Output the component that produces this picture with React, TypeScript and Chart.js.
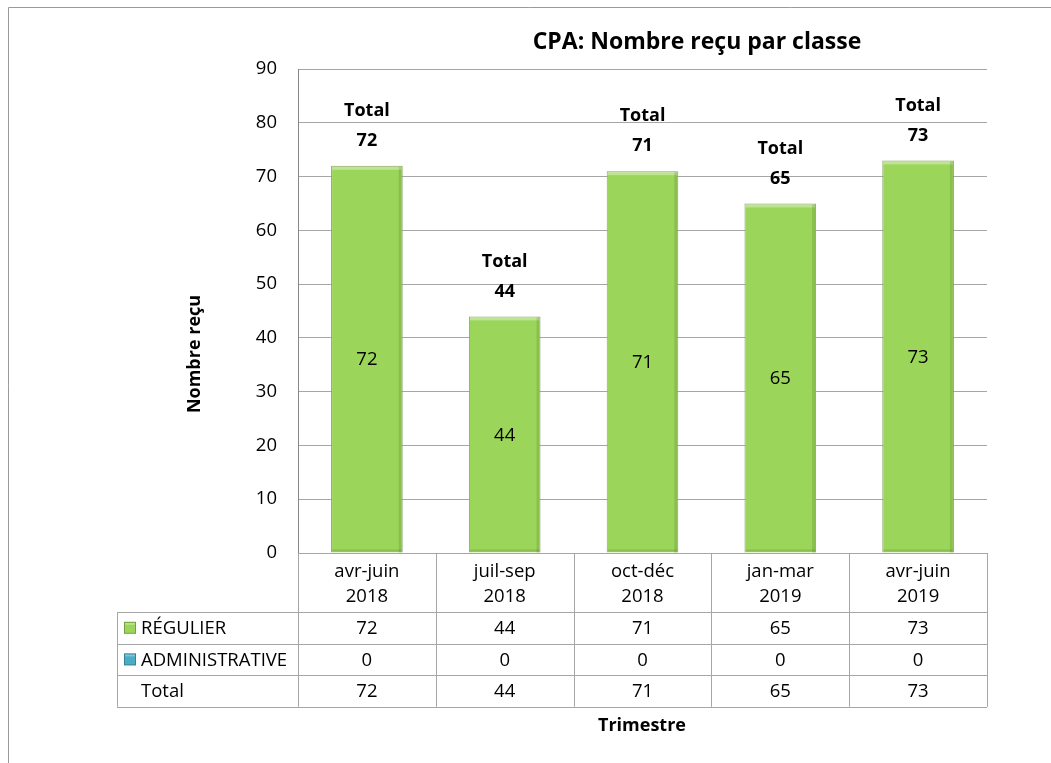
import React, { useEffect, useRef } from "react";
import { Chart, registerables } from "chart.js";

Chart.register(...registerables);

const chartTitle = "CPA: Nombre reçu par classe";
const yTitle = "Nombre reçu";
const xTitle = "Trimestre";
const categories = [
  ["avr-juin", "2018"],
  ["juil-sep", "2018"],
  ["oct-déc", "2018"],
  ["jan-mar", "2019"],
  ["avr-juin", "2019"],
];
const seriesNames = ["RÉGULIER", "ADMINISTRATIVE"];
const regulier = [72, 44, 71, 65, 73];
const administrative = [0, 0, 0, 0, 0];
const totals = [72, 44, 71, 65, 73];
const totalLabel = "Total";

const FONT = "'Open Sans', sans-serif";
const GREEN = "#9BD65A";
const BLUE = "#4BACC6";
const LINE = "#a6a6a6";
const TXT = 18.5;

const tablePlugin = {
  id: "dataTable",
  beforeDraw(chart: any) {
    const { ctx } = chart;
    ctx.save();
    ctx.fillStyle = "#fff";
    ctx.fillRect(0, 0, chart.width, chart.height);
    ctx.restore();
  },
  afterDatasetsDraw(chart: any) {
    // subtle bevel on bars
    const { ctx } = chart;
    const meta = chart.getDatasetMeta(0);
    ctx.save();
    meta.data.forEach((bar: any) => {
      const l = bar.x - bar.width / 2;
      const r = bar.x + bar.width / 2;
      const t = bar.y;
      const b = bar.base;
      ctx.fillStyle = "rgba(255,255,255,0.35)";
      ctx.fillRect(l + 1, t + 1, r - l - 2, 3);
      ctx.fillStyle = "rgba(60,90,30,0.18)";
      ctx.fillRect(r - 4, t + 1, 3, b - t - 1);
      ctx.fillRect(l + 1, b - 3, r - l - 2, 2);
    });
    ctx.restore();
  },
  afterDraw(chart: any) {
    const { ctx, chartArea } = chart;
    const xs = chart.scales.x;
    const ys = chart.scales.y;
    const n = categories.length;
    const step = xs.width / n;
    ctx.save();

    // outer frame
    ctx.strokeStyle = "#9a9a9a";
    ctx.lineWidth = 1;
    ctx.beginPath();
    ctx.moveTo(8.5, chart.height);
    ctx.lineTo(8.5, 7.5);
    ctx.lineTo(chart.width, 7.5);
    ctx.stroke();

    // title
    ctx.fillStyle = "#000";
    ctx.textAlign = "center";
    ctx.textBaseline = "middle";
    ctx.font = `bold 23px ${FONT}`;
    ctx.fillText(chartTitle, 697, 42);

    // axis titles
    ctx.font = `bold 18px ${FONT}`;
    ctx.fillText(xTitle, 642, 726);
    ctx.save();
    ctx.translate(195, 354);
    ctx.rotate(-Math.PI / 2);
    ctx.fillText(yTitle, 0, 0);
    ctx.restore();

    // table
    const tblLeft = 117;
    const top = chartArea.bottom;
    const headerBottom = top + 59;
    const rowH = 31.6;
    const rowsY = [headerBottom, headerBottom + rowH, headerBottom + 2 * rowH, headerBottom + 3 * rowH];
    ctx.strokeStyle = LINE;
    ctx.lineWidth = 1;
    ctx.beginPath();
    for (let i = 0; i <= n; i++) {
      const bx = Math.round(xs.left + i * step) + 0.5;
      ctx.moveTo(bx, top);
      ctx.lineTo(bx, rowsY[3]);
    }
    ctx.moveTo(tblLeft + 0.5, headerBottom);
    ctx.lineTo(tblLeft + 0.5, rowsY[3]);
    for (const ry of rowsY) {
      const yy = Math.round(ry) + 0.5;
      ctx.moveTo(tblLeft, yy);
      ctx.lineTo(xs.right, yy);
    }
    ctx.stroke();

    const rowValues = [regulier, administrative, totals];
    const rowNames = [seriesNames[0], seriesNames[1], totalLabel];
    const markerColors = [GREEN, BLUE, null];
    ctx.font = `${TXT}px ${FONT}`;
    for (let r = 0; r < 3; r++) {
      const cy = (rowsY[r] + rowsY[r + 1]) / 2;
      const mc = markerColors[r];
      if (mc) {
        ctx.fillStyle = mc;
        ctx.fillRect(124, cy - 6, 12, 12);
        ctx.fillStyle = "rgba(255,255,255,0.3)";
        ctx.fillRect(125, cy - 5, 10, 2);
        ctx.strokeStyle = "rgba(0,0,0,0.25)";
        ctx.strokeRect(124.5, cy - 5.5, 11, 11);
      }
      ctx.fillStyle = "#000";
      ctx.textAlign = "left";
      ctx.fillText(rowNames[r], 141, cy + 1);
      ctx.textAlign = "center";
      rowValues[r].forEach((v, i) => {
        ctx.fillText(String(v), xs.getPixelForValue(i), cy + 1);
      });
    }

    // labels inside bars and totals above
    const meta = chart.getDatasetMeta(0);
    ctx.fillStyle = "#000";
    ctx.textAlign = "center";
    meta.data.forEach((bar: any, i: number) => {
      const c = bar.getCenterPoint();
      ctx.font = `${TXT}px ${FONT}`;
      ctx.fillText(String(regulier[i]), c.x, c.y + 1);
      const ty = ys.getPixelForValue(totals[i]);
      ctx.font = `bold 18px ${FONT}`;
      ctx.fillText(String(totals[i]), c.x, ty - 25);
      ctx.fillText(totalLabel, c.x, ty - 55);
    });

    ctx.restore();
  },
};

export default function App() {
  const ref = useRef<HTMLCanvasElement | null>(null);
  useEffect(() => {
    if (!ref.current) return;
    const chart = new Chart(ref.current, {
      type: "bar",
      data: {
        labels: categories,
        datasets: [
          {
            label: seriesNames[0],
            data: regulier,
            backgroundColor: GREEN,
            borderColor: "#8aa468",
            borderWidth: 1,
            barPercentage: 0.52,
            categoryPercentage: 1,
          },
          {
            label: seriesNames[1],
            data: administrative,
            backgroundColor: BLUE,
            borderWidth: 0,
            barPercentage: 0.52,
            categoryPercentage: 1,
          },
        ],
      },
      options: {
        animation: false,
        responsive: false,
        devicePixelRatio: 1,
        layout: { padding: { left: 0, top: 69, right: 64, bottom: 0 } },
        plugins: { legend: { display: false }, tooltip: { enabled: false }, title: { display: false } },
        scales: {
          x: {
            stacked: true,
            grid: { display: false, drawTicks: false },
            border: { display: true, color: LINE },
            ticks: {
              color: "#000",
              font: { family: FONT, size: TXT, lineHeight: 1.35 },
              padding: 6,
              maxRotation: 0,
              autoSkip: false,
            },
            afterFit: (axis: any) => {
              axis.height = 210;
            },
          },
          y: {
            stacked: true,
            min: 0,
            max: 90,
            grid: { color: LINE, drawTicks: false },
            border: { display: true, color: "#868686" },
            ticks: {
              stepSize: 10,
              color: "#000",
              font: { family: FONT, size: TXT },
              padding: 21,
            },
            afterFit: (axis: any) => {
              axis.width = 298;
            },
          },
        },
      },
      plugins: [tablePlugin],
    });
    return () => chart.destroy();
  }, []);
  return (
    <div style={{ position: "fixed", left: 0, top: 0, width: 1051, height: 763 }}>
      <canvas ref={ref} width={1051} height={763} style={{ width: 1051, height: 763, display: "block" }} />
    </div>
  );
}
